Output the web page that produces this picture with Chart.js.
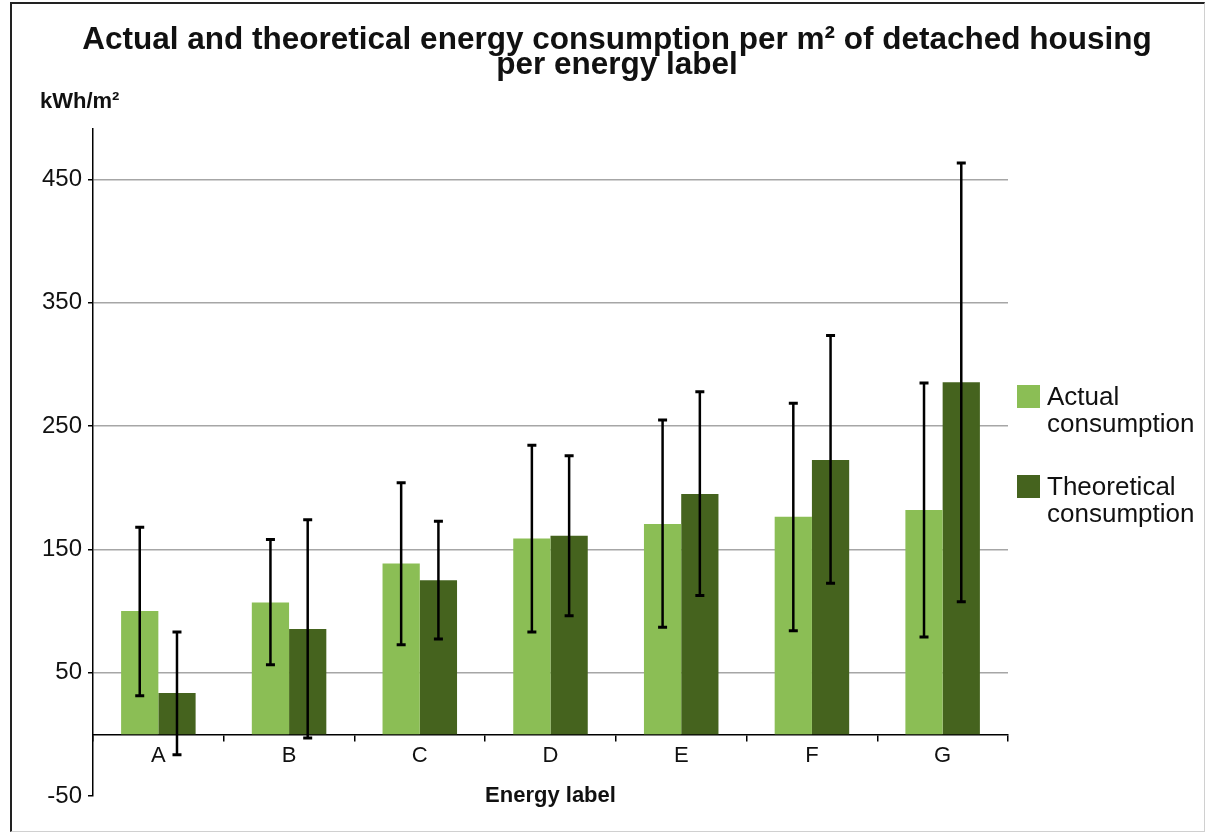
<!DOCTYPE html>
<html>
<head>
<meta charset="utf-8">
<script src="https://cdn.jsdelivr.net/npm/chart.js@4/dist/chart.umd.min.js"></script>
<style>
  body { margin: 0; background: #fff; font-family: "Liberation Sans", Arial, sans-serif; color: #111; }
  #wrap { position: relative; width: 1205px; height: 832px; overflow: hidden; }
  #frame { position: absolute; left: 10px; top: 2px; width: 1192px; height: 827px;
           border-left: 2px solid #222; border-top: 2px solid #222;
           border-right: 1px solid #d0d0d0; border-bottom: 1px solid #d0d0d0; }
  canvas { position: absolute; left: 0; top: 0; }
  #titre { position: absolute; left: 30px; width: 1174px; top: 26px; text-align: center;
           font-weight: bold; font-size: 31.5px; line-height: 25px; }
  #unit { position: absolute; left: 40px; top: 90px; font-weight: bold; font-size: 22px; line-height: 22px; }
  #xtitle { position: absolute; left: 93px; width: 915px; top: 783px; text-align: center;
            font-weight: bold; font-size: 22px; line-height: 24px; }
  .sw { position: absolute; left: 1017px; width: 23px; height: 23px; }
  .lg { position: absolute; left: 1047px; font-size: 26px; line-height: 27px; }
</style>
</head>
<body>
<div id="wrap">
  <div id="frame"></div>
  <canvas id="graph" width="1205" height="832"></canvas>
  <div id="titre">Actual and theoretical energy consumption per m² of detached housing<br>per energy label</div>
  <div id="unit">kWh/m²</div>
  <div id="xtitle">Energy label</div>
  <div class="sw" style="top:385px;background:#8bbe55"></div>
  <div class="lg" style="top:383px">Actual<br>consumption</div>
  <div class="sw" style="top:475px;background:#45631e"></div>
  <div class="lg" style="top:473px">Theoretical<br>consumption</div>
</div>
<script>
var labels = ['A', 'B', 'C', 'D', 'E', 'F', 'G'];
var actual      = [100, 107, 138.5, 158.8, 170.7, 176.4, 182];
var theoretical = [33.5, 85.5, 125, 161, 195, 222.6, 285.6];
// error bar ends
var actualHigh  = [168, 158, 204, 234.5, 255, 268.6, 285];
var actualLow   = [31.3, 56.5, 72.7, 83, 86.8, 84, 79];
var theoHigh    = [83, 174, 172.8, 226, 277.8, 323.5, 463.5];
var theoLow     = [-16.6, -3, 77.3, 96.3, 112.7, 122.5, 107.6];
var yTicks = [-50, 50, 150, 250, 350, 450];

var errorBars = {
  id: 'errorBars',
  afterDatasetsDraw: function(chart) {
    var ctx = chart.ctx, y = chart.scales.y;
    var ranges = [[actualLow, actualHigh], [theoLow, theoHigh]];
    ctx.save();
    ctx.strokeStyle = '#000';
    chart.data.datasets.forEach(function(ds, i) {
      chart.getDatasetMeta(i).data.forEach(function(bar, j) {
        var top = y.getPixelForValue(ranges[i][1][j]);
        var bot = y.getPixelForValue(ranges[i][0][j]);
        ctx.lineWidth = 2.5;
        ctx.beginPath();
        ctx.moveTo(bar.x, top);
        ctx.lineTo(bar.x, bot);
        ctx.stroke();
        ctx.lineWidth = 3;
        ctx.beginPath();
        ctx.moveTo(bar.x - 4.5, top); ctx.lineTo(bar.x + 4.5, top);
        ctx.moveTo(bar.x - 4.5, bot); ctx.lineTo(bar.x + 4.5, bot);
        ctx.stroke();
      });
    });
    ctx.restore();
  }
};

var tickFont = { family: '"Liberation Sans", Arial, sans-serif', size: 24 };

new Chart(document.getElementById('graph').getContext('2d'), {
  type: 'bar',
  data: {
    labels: labels,
    datasets: [
      { label: 'Actual consumption', data: actual, backgroundColor: '#8bbe55',
        barPercentage: 1, categoryPercentage: 0.57 },
      { label: 'Theoretical consumption', data: theoretical, backgroundColor: '#45631e',
        barPercentage: 1, categoryPercentage: 0.57 }
    ]
  },
  options: {
    responsive: false,
    maintainAspectRatio: false,
    animation: false,
    layout: { padding: { top: 129, left: 0, right: 197, bottom: 36 } },
    plugins: { legend: { display: false }, tooltip: { enabled: false } },
    scales: {
      x: {
        position: { y: 0 },
        grid: { offset: true, drawOnChartArea: false, tickLength: 6, color: '#000', lineWidth: 1.5 },
        border: { color: '#000', width: 1.5 },
        ticks: { font: { family: tickFont.family, size: 22 }, color: '#111', padding: 2 },
        afterFit: function(scale) { scale.height = 36; }
      },
      y: {
        min: -50,
        max: 491,
        afterBuildTicks: function(scale) {
          scale.ticks = yTicks.map(function(v) { return { value: v }; });
        },
        grid: {
          color: function(c) { return c.tick && c.tick.value === -50 ? 'rgba(0,0,0,0)' : '#a6a6a6'; },
          tickColor: '#000',
          tickLength: 5,
          lineWidth: 1.5
        },
        border: { color: '#000', width: 1.5 },
        ticks: { font: tickFont, color: '#111', padding: 6 },
        afterFit: function(scale) { scale.width = 93; }
      }
    }
  },
  plugins: [errorBars]
});
</script>
</body>
</html>
